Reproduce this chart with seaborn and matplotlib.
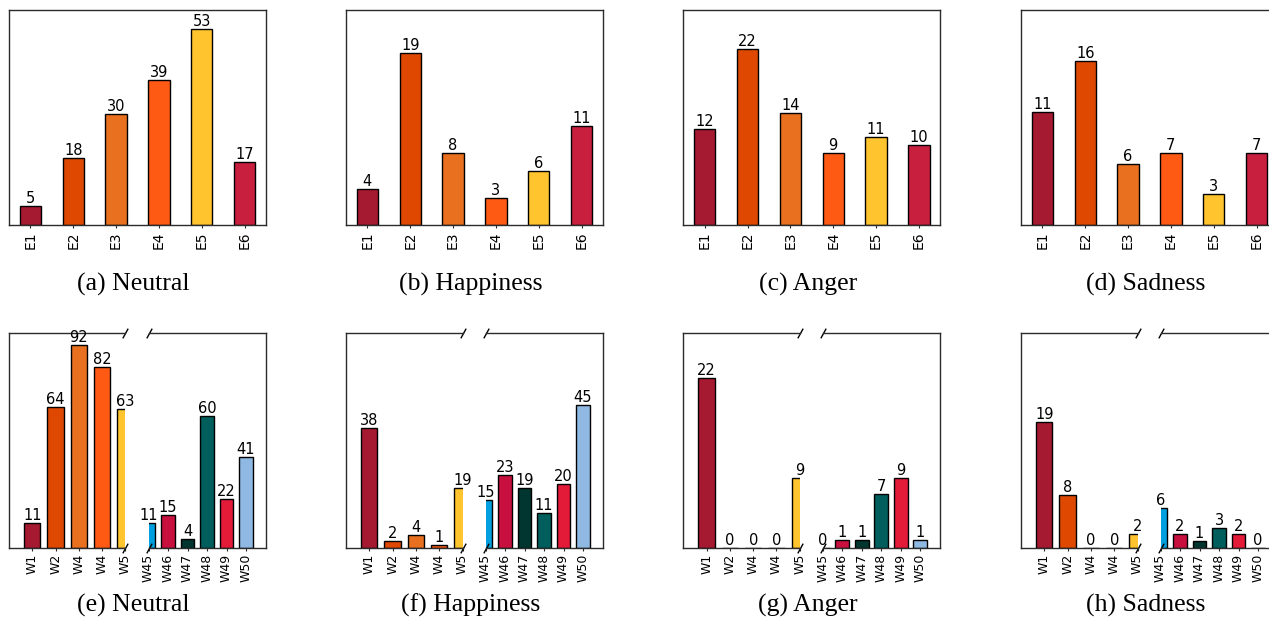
import matplotlib
matplotlib.use("Agg")
import matplotlib.pyplot as plt
import seaborn as sns
import pandas as pd

# ---- data -------------------------------------------------------------
emotions = ["Neutral", "Happiness", "Anger", "Sadness"]
top_tags = ["(a)", "(b)", "(c)", "(d)"]
bottom_tags = ["(e)", "(f)", "(g)", "(h)"]

e_labels = ["E1", "E2", "E3", "E4", "E5", "E6"]
e_neutral = [5, 18, 30, 39, 53, 17]
e_happiness = [4, 19, 8, 3, 6, 11]
e_anger = [12, 22, 14, 9, 11, 10]
e_sadness = [11, 16, 6, 7, 3, 7]

w_head_labels = ["W1", "W2", "W4", "W4", "W5"]
w_tail_labels = ["W45", "W46", "W47", "W48", "W49", "W50"]
w_head_neutral = [11, 64, 92, 82, 63]
w_tail_neutral = [11, 15, 4, 60, 22, 41]
w_head_happiness = [38, 2, 4, 1, 19]
w_tail_happiness = [15, 23, 19, 11, 20, 45]
w_head_anger = [22, 0, 0, 0, 9]
w_tail_anger = [0, 1, 1, 7, 9, 1]
w_head_sadness = [19, 8, 0, 0, 2]
w_tail_sadness = [6, 2, 1, 3, 2, 0]

# ---- styling ----------------------------------------------------------
e_colors = ["#A61A31", "#DE4800", "#E8701F", "#FF5A14", "#FFC42E", "#C81F3E"]
w_head_colors = e_colors[:5]
w_tail_colors = ["#00A0E0", "#C8103F", "#00362F", "#005E5C", "#E31A38", "#8FB9E3"]

top_ylim = [58.0, 23.8, 26.9, 21.0]
bottom_ylim = [97.6, 68.0, 27.8, 32.5]

W, H = 1269, 618
fig = plt.figure(figsize=(W / 100, H / 100), dpi=100)

col_left = [9, 346, 683.3, 1021]
ax_w = 257
top_y0, top_y1 = 10, 225
bot_y0, bot_y1 = 332.7, 547.7
head_w, gap, tail_w = 116.5, 23, 117

SPINE = "#2b2b2b"


def px_axes(x0, y0, w, h):
    return fig.add_axes([x0 / W, 1 - (y0 + h) / H, w / W, h / H])


def draw_bars(ax, labels, values, colors, width, tick_size):
    keys = [str(i) for i in range(len(values))]
    df = pd.DataFrame({"key": keys, "value": values})
    sns.barplot(data=df, x="key", y="value", hue="key", order=keys,
                hue_order=keys, palette=dict(zip(keys, colors)),
                saturation=1, width=width, edgecolor="black", linewidth=1,
                errorbar=None, legend=False, ax=ax)
    for cont in ax.containers:
        ax.bar_label(cont, fmt="{:.0f}", fontsize=10.5, padding=0)
    ax.set_xticks(range(len(labels)))
    ax.set_xticklabels(labels, rotation=90, fontsize=tick_size)
    ax.set_xlabel("")
    ax.set_ylabel("")
    ax.set_yticks([])
    ax.tick_params(axis="x", length=2.5, width=0.8, pad=2, color=SPINE)
    for sp in ax.spines.values():
        sp.set_color(SPINE)
        sp.set_linewidth(1.0)


caption_font = dict(family="Liberation Serif", size=18.5)

# ---- top row: E categories -------------------------------------------
e_series = [e_neutral, e_happiness, e_anger, e_sadness]
for i, vals in enumerate(e_series):
    ax = px_axes(col_left[i], top_y0, ax_w, top_y1 - top_y0)
    draw_bars(ax, e_labels, vals, e_colors, 0.5, 10)
    ax.set_xlim(-0.5, len(vals) - 0.5)
    ax.set_ylim(0, top_ylim[i])
    cx = col_left[i] + ax_w / 2 - 4
    fig.text(cx / W, 1 - 291 / H, f"{top_tags[i]} {emotions[i]}",
             ha="center", va="baseline", **caption_font)

# ---- bottom row: W categories with a broken x axis -------------------
head_series = [w_head_neutral, w_head_happiness, w_head_anger, w_head_sadness]
tail_series = [w_tail_neutral, w_tail_happiness, w_tail_anger, w_tail_sadness]
mark = dict(marker=[(-0.55, -1), (0.55, 1)], markersize=7, linestyle="none",
            color="k", mec="k", mew=1, clip_on=False)

for i in range(4):
    x0 = col_left[i]
    axl = px_axes(x0, bot_y0, head_w, bot_y1 - bot_y0)
    axr = px_axes(x0 + head_w + gap, bot_y0, tail_w, bot_y1 - bot_y0)

    draw_bars(axl, w_head_labels, head_series[i], w_head_colors, 0.7, 9)
    draw_bars(axr, w_tail_labels, tail_series[i], w_tail_colors, 0.7, 9)
    axl.set_xlim(-1, len(head_series[i]) - 1)
    axr.set_xlim(0, len(tail_series[i]))
    axl.set_ylim(0, bottom_ylim[i])
    axr.set_ylim(0, bottom_ylim[i])

    axl.spines["right"].set_visible(False)
    axr.spines["left"].set_visible(False)
    axl.plot([1, 1], [0, 1], transform=axl.transAxes, **mark)
    axr.plot([0, 0], [0, 1], transform=axr.transAxes, **mark)

    cx = x0 + ax_w / 2 - 4
    fig.text(cx / W, 1 - 611.5 / H, f"{bottom_tags[i]} {emotions[i]}",
             ha="center", va="baseline", **caption_font)

fig.savefig("out.png", dpi=100)
